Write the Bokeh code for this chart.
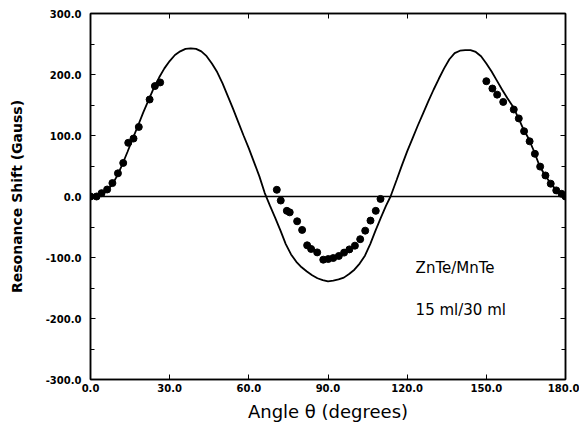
from bokeh.plotting import figure
from bokeh.models import (LinearAxis, Span, Range1d, FixedTicker, PrintfTickFormatter,
                          Label, CustomJSTickFormatter)
from bokeh.embed import file_html
from bokeh.resources import INLINE

# measured data (dots)
dots_x = [0, 2.3, 4.2, 6.3, 8.3, 10.4, 12.4, 14.3, 16.3, 18.3, 22.4, 24.4, 26.4,
          70.6, 72.1, 74.4, 75.5, 78.3, 80.2, 82.1, 83.6, 85.9, 88.2, 90.1, 92.0,
          94.1, 96.1, 98.1, 100.2, 102.2, 104.1, 106.1, 108.1, 109.9,
          150.0, 152.3, 154.1, 156.4, 160.4, 162.3, 164.3, 166.4, 168.4, 170.4,
          172.4, 174.4, 176.5, 178.5, 180.0]
dots_y = [0, 0, 5.5, 11.5, 22, 38, 55, 88, 95, 114, 159, 181, 187,
          11, -6.6, -23.5, -26, -40.6, -54.8, -80, -86, -91.6, -103.6, -102.5, -100.8,
          -97.5, -92, -86.7, -80.6, -70, -56, -39.5, -23.5, -4,
          189, 177, 167, 155, 142.6, 128, 107, 90.5, 70, 49,
          34.5, 21, 10, 4.4, 0]

# theory curve
curve_x = [0, 2, 4, 6, 8, 10, 12, 14, 16, 18, 20, 22, 24, 26, 28, 30, 32, 34, 36, 38,
           40, 42, 44, 46, 48, 50, 52, 54, 56, 58, 60, 62, 64, 66, 68, 70, 72, 74, 76,
           78, 80, 82, 84, 86, 88, 90, 92, 94, 96, 98, 100, 102, 104, 106, 108, 110,
           112, 113.7, 116, 118, 120, 122, 124, 126, 128, 130, 132, 134, 136, 138,
           140, 142, 144, 146, 148, 150, 152, 154, 156, 158, 160, 162, 164, 166,
           168, 170, 172, 174, 176, 178, 180]
curve_y = [0, 1, 4, 10, 18, 33, 52, 73, 95, 116, 138, 158, 178, 195, 210, 222, 232, 238, 242, 243,
           242, 238, 230, 218, 204, 186, 165, 144, 122, 100, 79, 56, 33, 6, -15, -35, -56, -78, -95,
           -107, -116, -123, -129, -134, -137, -139, -138, -136, -133, -127, -120, -110, -97, -78, -56, -35,
           -15, 0, 27, 51, 74, 95, 116, 136, 156, 175, 193, 210, 225, 235,
           239, 240, 240, 237, 230, 218, 205, 190, 175, 161, 148, 130, 111, 95,
           75, 52, 36, 24, 13, 5, 0]

x_ticks = [0, 30, 60, 90, 120, 150, 180]
y_ticks = [-300, -200, -100, 0, 100, 200, 300]
y_minor = [-250, -150, -50, 50, 150, 250]

p = figure(width=579, height=432, output_backend="svg", toolbar_location=None,
           x_range=Range1d(0, 180), y_range=Range1d(-300, 300),
           min_border_left=90, min_border_right=14, min_border_top=13, min_border_bottom=53)
p.xgrid.visible = False
p.ygrid.visible = False
p.outline_line_color = "black"
p.outline_line_width = 1.5
p.background_fill_color = "white"
p.border_fill_color = "white"

def style(ax, labels=True):
    ax.axis_line_color = "black"
    ax.axis_line_width = 1.5
    ax.major_tick_in = 5
    ax.major_tick_out = 0
    ax.minor_tick_in = 4
    ax.minor_tick_out = 0
    ax.major_tick_line_color = "black"
    ax.minor_tick_line_color = "black"
    ax.major_tick_line_width = 1
    ax.major_label_text_font = "DejaVu Sans"
    ax.major_label_text_font_style = "bold"
    ax.major_label_text_font_size = "10px"
    ax.major_label_text_color = "black"
    if labels:
        ax.formatter = PrintfTickFormatter(format="%.1f")
    else:
        ax.formatter = CustomJSTickFormatter(code="return ''")
        ax.major_label_standoff = 0

p.xaxis.ticker = FixedTicker(ticks=x_ticks, minor_ticks=[])
p.yaxis.ticker = FixedTicker(ticks=y_ticks, minor_ticks=y_minor)
style(p.xaxis[0])
style(p.yaxis[0])
p.xaxis.major_label_standoff = 4
p.yaxis.major_label_standoff = 9

p.xaxis.axis_label = "Angle θ (degrees)"
p.xaxis.axis_label_text_font = "DejaVu Sans"
p.xaxis.axis_label_text_font_style = "normal"
p.xaxis.axis_label_text_font_size = "18px"
p.xaxis.axis_label_text_color = "black"
p.xaxis.axis_label_standoff = 6

p.yaxis.axis_label = "Resonance Shift (Gauss)"
p.yaxis.axis_label_text_font = "DejaVu Sans"
p.yaxis.axis_label_text_font_style = "bold"
p.yaxis.axis_label_text_font_size = "14px"
p.yaxis.axis_label_text_color = "black"
p.yaxis.axis_label_standoff = 18

top = LinearAxis(ticker=FixedTicker(ticks=x_ticks, minor_ticks=[]))
style(top, labels=False)
p.add_layout(top, "above")
right = LinearAxis(ticker=FixedTicker(ticks=y_ticks, minor_ticks=y_minor))
style(right, labels=False)
p.add_layout(right, "right")

p.add_layout(Span(location=0, dimension="width", line_color="black", line_width=1.5))

p.line(curve_x, curve_y, line_color="black", line_width=1.8)
p.scatter(dots_x, dots_y, marker="circle", size=7, fill_color="black", line_color="black")

p.add_layout(Label(x=123.2, y=-118, text="ZnTe/MnTe", text_font="DejaVu Sans",
                   text_font_size="15px", text_color="black", text_baseline="middle"))
p.add_layout(Label(x=123.2, y=-186, text="15 ml/30 ml", text_font="DejaVu Sans",
                   text_font_size="15px", text_color="black", text_baseline="middle"))

open("out.html", "w").write(file_html(p, INLINE))
